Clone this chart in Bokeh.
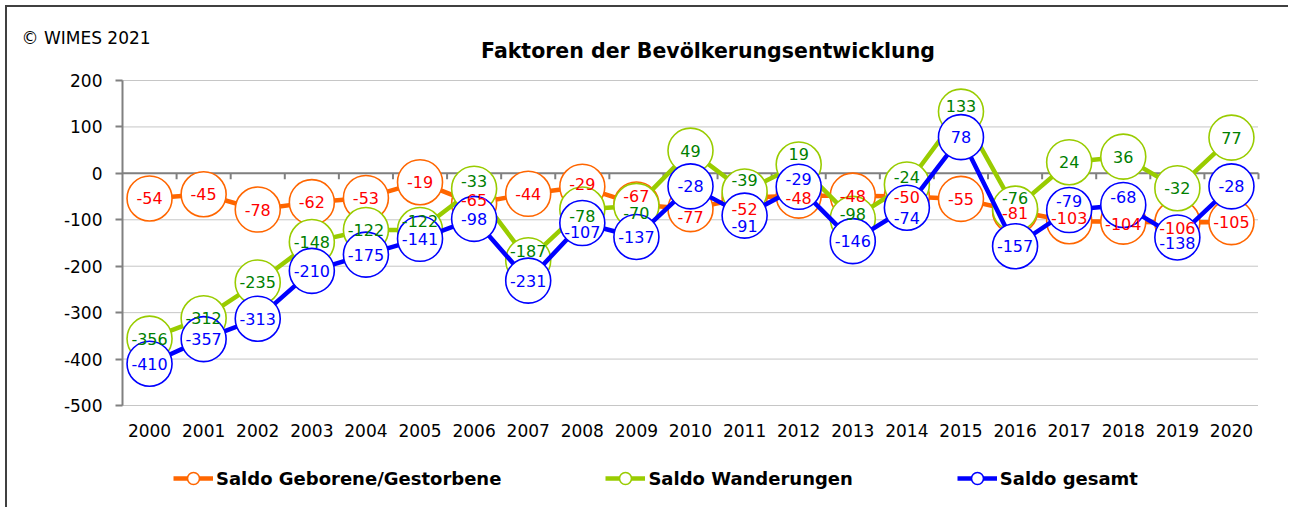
from bokeh.plotting import figure
from bokeh.models import (Range1d, ColumnDataSource, Label, Legend, LegendItem,
                          FixedTicker, LinearAxis)
from bokeh.embed import file_html
from bokeh.resources import INLINE
from bokeh.core.properties import value

# ---------------- data ----------------
years = ["2000", "2001", "2002", "2003", "2004", "2005", "2006", "2007", "2008", "2009",
         "2010", "2011", "2012", "2013", "2014", "2015", "2016", "2017", "2018", "2019", "2020"]
saldo_geb = [-54, -45, -78, -62, -53, -19, -65, -44, -29, -67,
             -77, -52, -48, -48, -50, -55, -81, -103, -104, -106, -105]
saldo_wand = [-356, -312, -235, -148, -122, -122, -33, -187, -78, -70,
              49, -39, 19, -98, -24, 133, -76, 24, 36, -32, 77]
saldo_ges = [-410, -357, -313, -210, -175, -141, -98, -231, -107, -137,
             -28, -91, -29, -146, -74, 78, -157, -79, -68, -138, -28]
series_names = ["Saldo Geborene/Gestorbene", "Saldo Wanderungen", "Saldo gesamt"]
y_ticks = [200, 100, 0, -100, -200, -300, -400, -500]
y_tick_labels = ["200", "100", "0", "-100", "-200", "-300", "-400", "-500"]
title_text = "Faktoren der Bevölkerungsentwicklung"
credit_text = "© WIMES 2021"

# label nudges in pixels (positive = down), layout only
nudge_geb = [0, 0, 0, 0, 0, 0, -4, 0, -3, -8, 8, 11, 2, 0, 0, 0, 2, -3, 2, 5, 0]
nudge_wand = [0, 0, 0, 0, 0, -9, -8, -9, 6, 7, 0, -11, -11, -5, -8, -6, -11, 0, 0, 0, 0]
nudge_ges = [0, 0, 0, 0, 0, 0, 0, 0, 9, 0, 0, 10, -8, 0, 10, 0, 0, -9, -8, 6, 0]

# ---------------- styles / layout ----------------
FONT = "DejaVu Sans"
LBL_COLORS = ["#FF0000", "#008000", "#0000FF"]
LINE_COLORS = ["#FF6600", "#99CC00", "#0000FF"]
AXIS_GRAY = "#808080"
LINE_W = 4.5
MARK_LW = 1.6

ORIG = 7                 # canvas origin on the page (css margin + border)
W, H = 1283, 502         # canvas size
PLOT_L, PLOT_T = 122 - ORIG, 80 - ORIG      # plot area top-left in canvas px
PLOT_W, PLOT_H = 1136, 325
Y0, Y1 = -500, 200

n = len(years)
xs = list(range(n))
X0, X1 = -0.5, n - 0.5
ppx = PLOT_W / (X1 - X0)
ppy = PLOT_H / (Y1 - Y0)
x_range = Range1d(X0 - PLOT_L / ppx, X1 + (W - PLOT_L - PLOT_W) / ppx)
y_range = Range1d(Y0 - (H - PLOT_T - PLOT_H) / ppy, Y1 + PLOT_T / ppy)

p = figure(x_range=x_range, y_range=y_range, width=W, height=H,
           x_axis_type=None, y_axis_type=None,
           min_border=0, min_border_left=0, min_border_right=0,
           min_border_top=0, min_border_bottom=0,
           output_backend="svg", toolbar_location=None, tools="")
p.styles = {"border-left": "2px solid #404040", "border-top": "2px solid #404040",
            "margin-left": "5px", "margin-top": "5px"}
p.outline_line_color = None
p.grid.visible = False

# grid lines (dotted) limited to the plot area
gsrc = ColumnDataSource(dict(y=y_ticks, x0=[X0] * len(y_ticks), x1=[X1] * len(y_ticks)))
p.segment(x0="x0", y0="y", x1="x1", y1="y", source=gsrc, line_color="#8c8c8c",
          line_width=1, line_dash="1 1")

# y axis
yax = LinearAxis(fixed_location=X0, bounds=(Y0, Y1), ticker=FixedTicker(ticks=y_ticks),
                 major_label_overrides={v: s for v, s in zip(y_ticks, y_tick_labels)})
yax.axis_line_color = AXIS_GRAY
yax.axis_line_width = 2
yax.major_tick_line_color = AXIS_GRAY
yax.major_tick_line_width = 2
yax.major_tick_out = 7
yax.major_tick_in = 0
yax.minor_tick_line_color = None
yax.major_label_text_font = FONT
yax.major_label_text_font_size = "17px"
yax.major_label_text_color = "black"
yax.major_label_standoff = 13
p.add_layout(yax, "left")

# x axis (category labels)
xax = LinearAxis(fixed_location=Y0, bounds=(X0, X1), ticker=FixedTicker(ticks=xs),
                 major_label_overrides={i: y for i, y in zip(xs, years)})
xax.axis_line_color = None
xax.major_tick_line_color = None
xax.major_tick_out = 0
xax.major_tick_in = 0
xax.minor_tick_line_color = None
xax.major_label_text_font = FONT
xax.major_label_text_font_size = "17px"
xax.major_label_text_color = "black"
xax.major_label_standoff = 18
p.add_layout(xax, "below")

# zero line with category-boundary ticks
p.segment(x0=[X0], y0=[0], x1=[X1], y1=[0], line_color=AXIS_GRAY, line_width=2)
tick_units = 6.0 / ppy
bounds = [x + 0.5 for x in xs]
tsrc = ColumnDataSource(dict(x=bounds, y0=[0] * n, y1=[-tick_units] * n))
p.segment(x0="x", y0="y0", x1="x", y1="y1", source=tsrc, line_color=AXIS_GRAY, line_width=2)

# series
all_vals = [saldo_geb, saldo_wand, saldo_ges]
all_nudges = [nudge_geb, nudge_wand, nudge_ges]
items = []
for vals, col, name in zip(all_vals, LINE_COLORS, series_names):
    src = ColumnDataSource(dict(x=xs, y=vals))
    lr = p.line("x", "y", source=src, line_color=col, line_width=LINE_W, line_join="round")
    sr = p.scatter("x", "y", source=src, size=45, marker="circle", fill_color="white",
                   line_color=col, line_width=MARK_LW)
    items.append(LegendItem(label=value(name), renderers=[lr, sr]))

for vals, nud, tcol in zip(all_vals, all_nudges, LBL_COLORS):
    src = ColumnDataSource(dict(x=xs, y=vals, t=[str(v) for v in vals], dy=nud))
    p.text("x", "y", text="t", y_offset="dy", source=src, text_color=tcol,
           text_font=value(FONT), text_font_size="16px",
           text_align="center", text_baseline="middle")

# title + credit (screen px within the canvas, y measured from bottom)
p.add_layout(Label(x=707.5 - ORIG, y=H - (50.7 - ORIG), x_units="screen", y_units="screen",
                   text=title_text, text_font=FONT, text_font_style="bold",
                   text_font_size="20.5px", text_align="center",
                   text_baseline="alphabetic", text_color="black"))
p.add_layout(Label(x=21 - ORIG, y=H - (37 - ORIG), x_units="screen", y_units="screen",
                   text=credit_text, text_font=FONT, text_font_size="17px",
                   text_align="left", text_baseline="alphabetic", text_color="black"))

# legend
leg = Legend(items=items, location=(173 - ORIG, H - (493 - ORIG)), orientation="horizontal",
             glyph_width=40, glyph_height=30, label_standoff=3, spacing=104,
             padding=0, margin=0, border_line_color=None,
             background_fill_alpha=0,
             label_text_font=FONT, label_text_font_style="bold",
             label_text_font_size="18px", label_text_color="black")
p.add_layout(leg)

open("out.html", "w").write(file_html(p, INLINE))
